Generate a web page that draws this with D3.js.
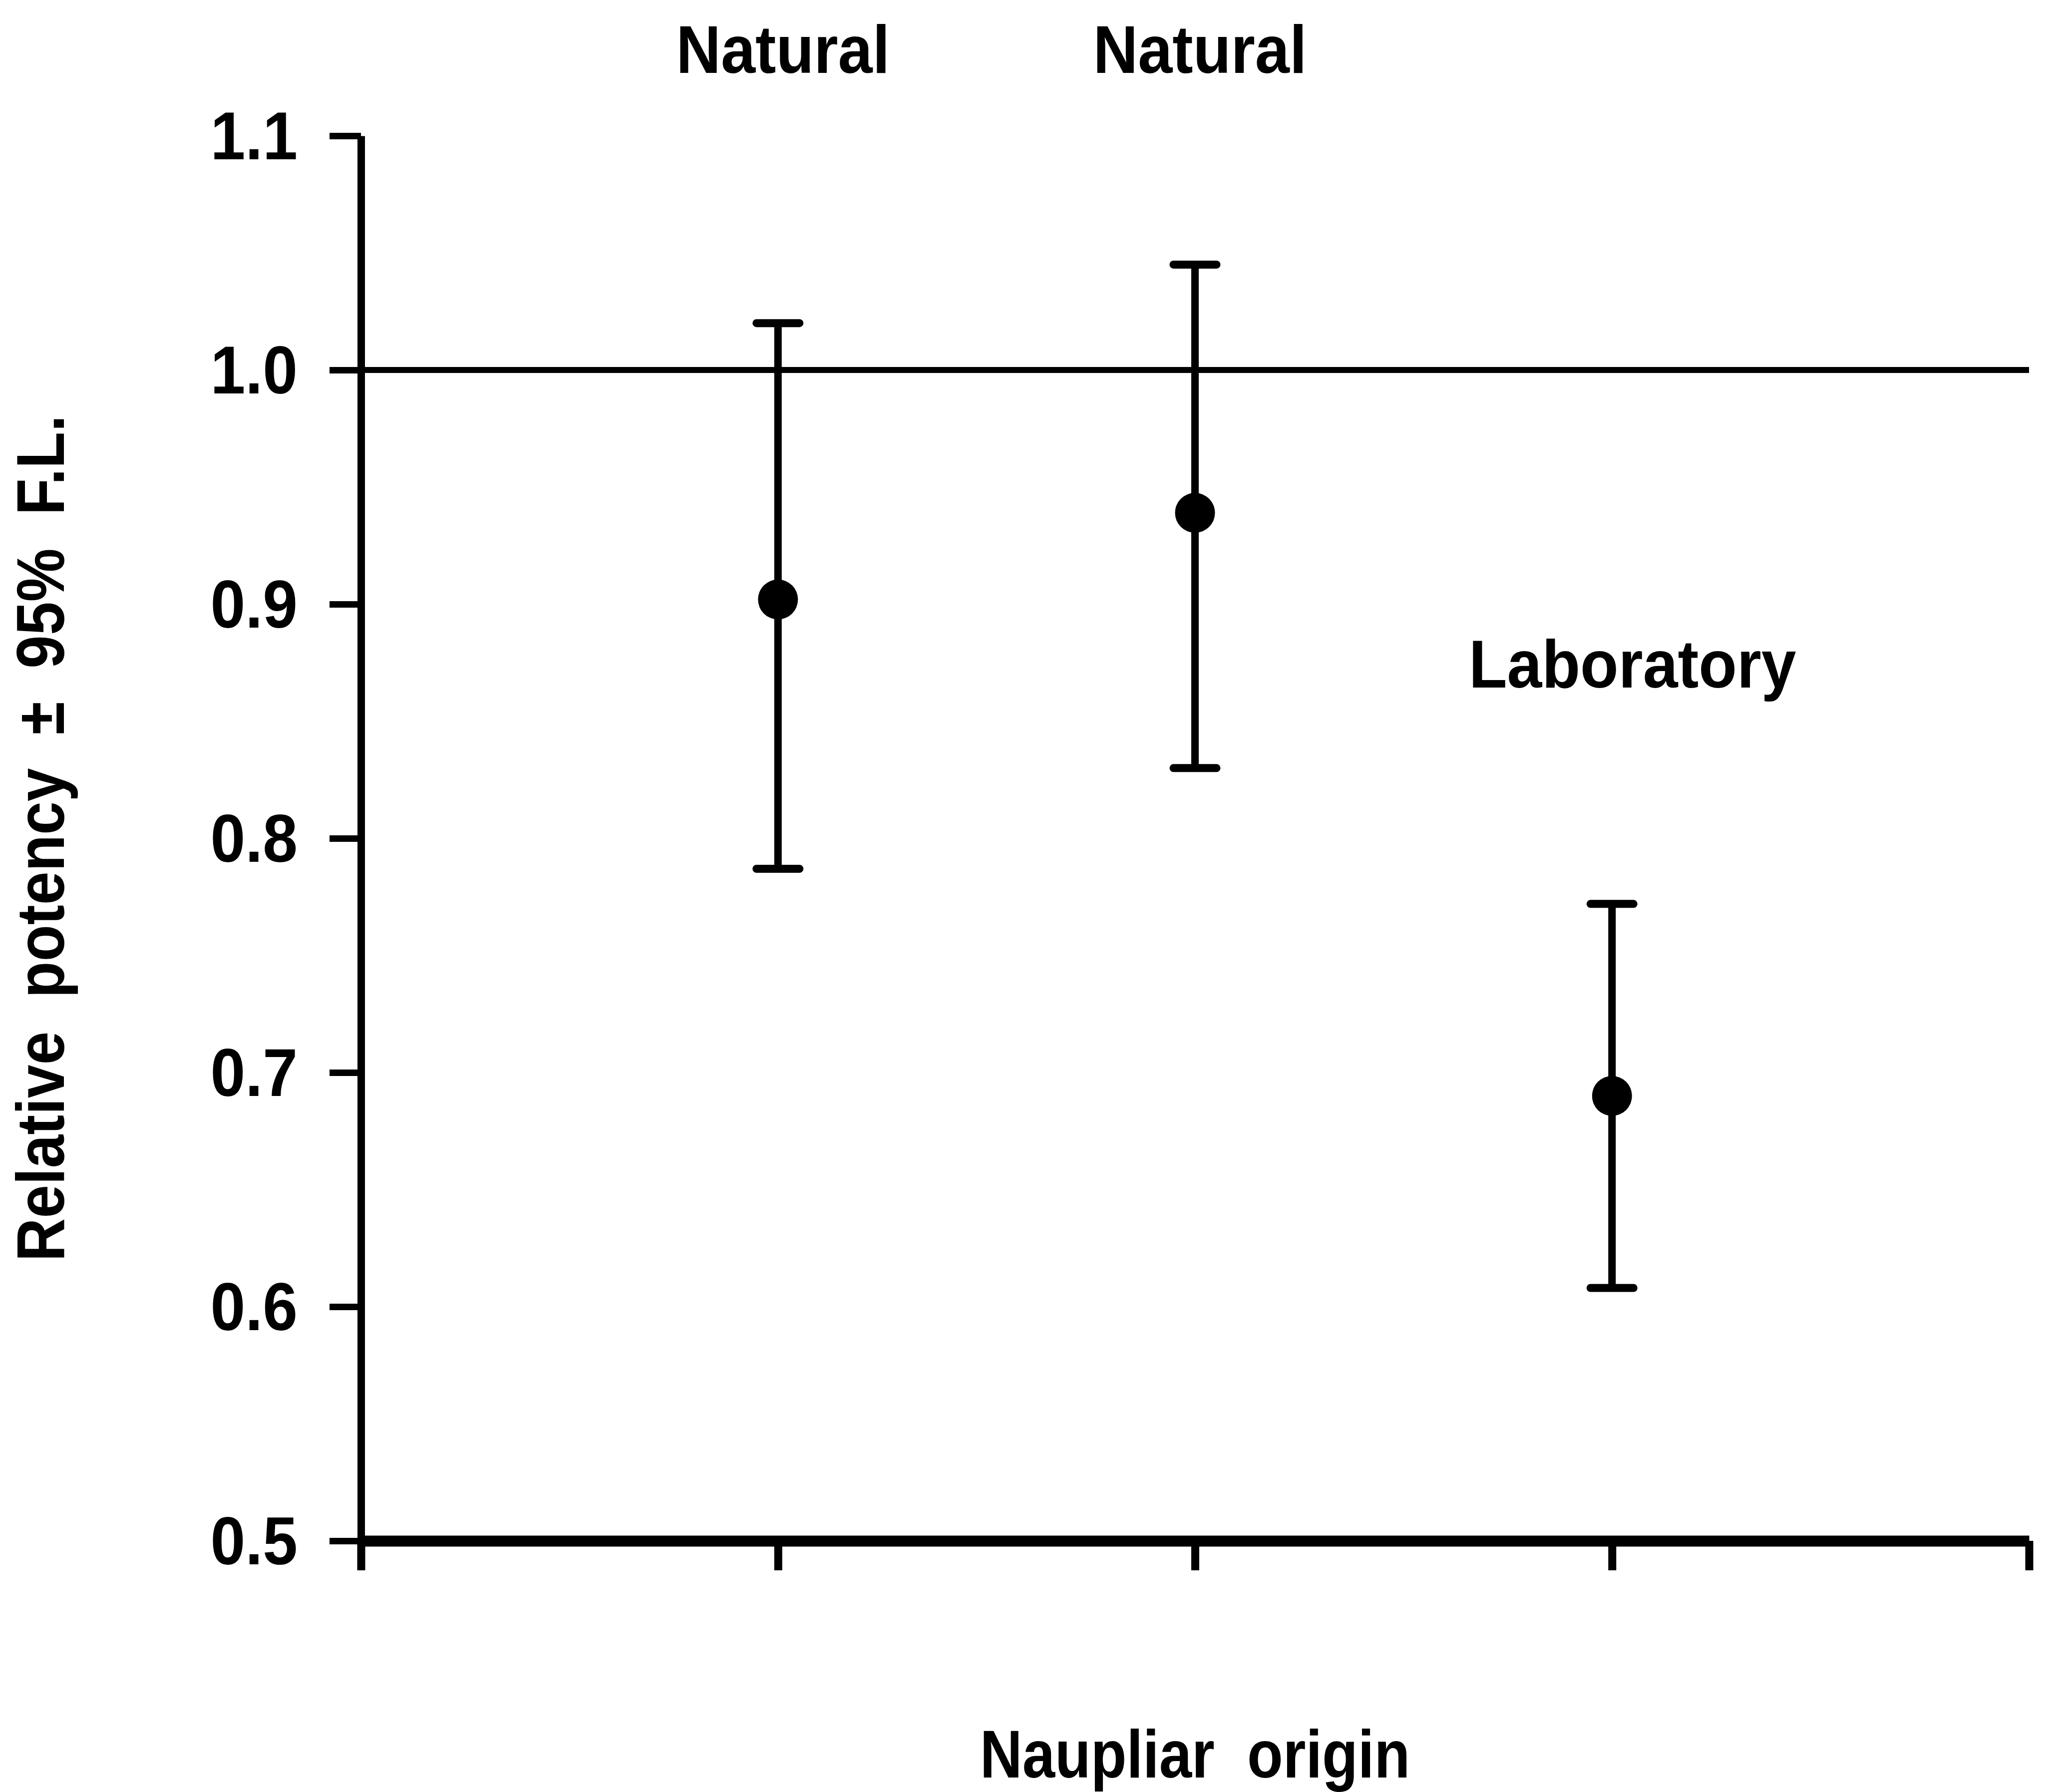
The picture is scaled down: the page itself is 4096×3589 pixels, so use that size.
<!DOCTYPE html>
<html>
<head>
<meta charset="utf-8">
<script src="https://cdn.jsdelivr.net/npm/d3@7"></script>
<style>
  html, body { margin: 0; padding: 0; background: #fff; }
  svg { display: block; }
  text { font-family: "Liberation Sans", Arial, Helvetica, sans-serif; font-weight: bold; fill: #000; white-space: pre; }
</style>
</head>
<body>
<div id="chart"></div>
<script>
// Relative potency of each naupliar origin, with 95% fiducial limits
const origins   = ["Natural", "Natural", "Laboratory"];
const positions = [1, 2, 3];
const potency   = [0.902, 0.939, 0.690];
const upperFL   = [1.020, 1.045, 0.772];
const lowerFL   = [0.787, 0.830, 0.608];

// Axis ticks and reference level
const yTicks = [0.5, 0.6, 0.7, 0.8, 0.9, 1.0, 1.1];
const yTickLabels = ["0.5", "0.6", "0.7", "0.8", "0.9", "1.0", "1.1"];
const xTicks = [0, 1, 2, 3, 4];
const referenceLevel = 1.0;

const yTitle = "Relative  potency  \u00b1  95%  F.L.";
const xTitle = "Naupliar  origin";

const W = 4096, H = 3589;
const plotLeft = 723, plotRight = 4064, plotTop = 272, plotBottom = 3086;

const svg = d3.select("#chart").append("svg")
  .attr("width", W).attr("height", H)
  .attr("viewBox", `0 0 ${W} ${H}`);

svg.append("rect").attr("width", W).attr("height", H).attr("fill", "#fff");

const x = d3.scaleLinear().domain([0, 4]).range([plotLeft, plotRight]);
const y = d3.scaleLinear().domain([0.5, 1.1]).range([plotBottom, plotTop]);

// Reference line at relative potency 1.0
svg.append("line")
  .attr("x1", x(0)).attr("x2", x(4))
  .attr("y1", y(referenceLevel)).attr("y2", y(referenceLevel))
  .attr("stroke", "#000").attr("stroke-width", 12);

// Y axis
const yAxis = svg.append("g")
  .attr("transform", `translate(${x(0)},0)`)
  .call(d3.axisLeft(y)
    .tickValues(yTicks)
    .tickFormat((d, i) => yTickLabels[i])
    .tickSize(63)
    .tickSizeOuter(0)
    .tickPadding(64));
yAxis.attr("font-family", null).attr("font-size", null);
yAxis.select(".domain").attr("stroke", "#000").attr("stroke-width", 15);
yAxis.selectAll(".tick line").attr("stroke", "#000").attr("stroke-width", 13);
yAxis.selectAll(".tick text")
  .attr("x", null).attr("dy", null)
  .attr("font-size", 135)
  .attr("fill", "#000")
  .attr("text-anchor", "end")
  .attr("dominant-baseline", "central")
  .attr("transform", "translate(-127,0) scale(0.93,1)");

// X axis
const xAxis = svg.append("g")
  .attr("transform", `translate(0,${y(0.5)})`)
  .call(d3.axisBottom(x)
    .tickValues(xTicks)
    .tickFormat("")
    .tickSize(59)
    .tickSizeOuter(0));
xAxis.select(".domain").attr("stroke", "#000").attr("stroke-width", 22);
xAxis.selectAll(".tick line").attr("stroke", "#000").attr("stroke-width", 16);

// Error bars with caps
const capHalf = 43;
const bars = svg.append("g").selectAll("g")
  .data(positions.map((p, i) => ({ p, v: potency[i], hi: upperFL[i], lo: lowerFL[i] })))
  .join("g");

bars.append("line")
  .attr("x1", d => x(d.p)).attr("x2", d => x(d.p))
  .attr("y1", d => y(d.hi)).attr("y2", d => y(d.lo))
  .attr("stroke", "#000").attr("stroke-width", 15);

bars.append("line")
  .attr("x1", d => x(d.p) - capHalf).attr("x2", d => x(d.p) + capHalf)
  .attr("y1", d => y(d.hi)).attr("y2", d => y(d.hi))
  .attr("stroke", "#000").attr("stroke-width", 16).attr("stroke-linecap", "round");

bars.append("line")
  .attr("x1", d => x(d.p) - capHalf).attr("x2", d => x(d.p) + capHalf)
  .attr("y1", d => y(d.lo)).attr("y2", d => y(d.lo))
  .attr("stroke", "#000").attr("stroke-width", 16).attr("stroke-linecap", "round");

bars.append("circle")
  .attr("cx", d => x(d.p)).attr("cy", d => y(d.v))
  .attr("r", 40).attr("fill", "#000");

// Origin labels: the natural ones above the plot, the laboratory one beside its point
svg.append("g").selectAll("text")
  .data(origins.map((name, i) => ({ name, p: positions[i] })))
  .join("text")
  .attr("text-anchor", "middle")
  .attr("font-size", 135)
  .attr("transform", d => d.name === "Laboratory"
    ? `translate(${x(d.p) + 41},1377) scale(0.93,1)`
    : `translate(${x(d.p) + 10},146) scale(0.92,1)`)
  .text(d => d.name);

// Axis titles
svg.append("text")
  .attr("text-anchor", "middle")
  .attr("font-size", 135)
  .attr("transform", `translate(128,${y(0.8)}) rotate(-90) scale(0.89,1)`)
  .text(yTitle);

svg.append("text")
  .attr("text-anchor", "middle")
  .attr("font-size", 135)
  .attr("transform", `translate(${x(2)},3560) scale(0.87,1)`)
  .text(xTitle);
</script>
</body>
</html>
